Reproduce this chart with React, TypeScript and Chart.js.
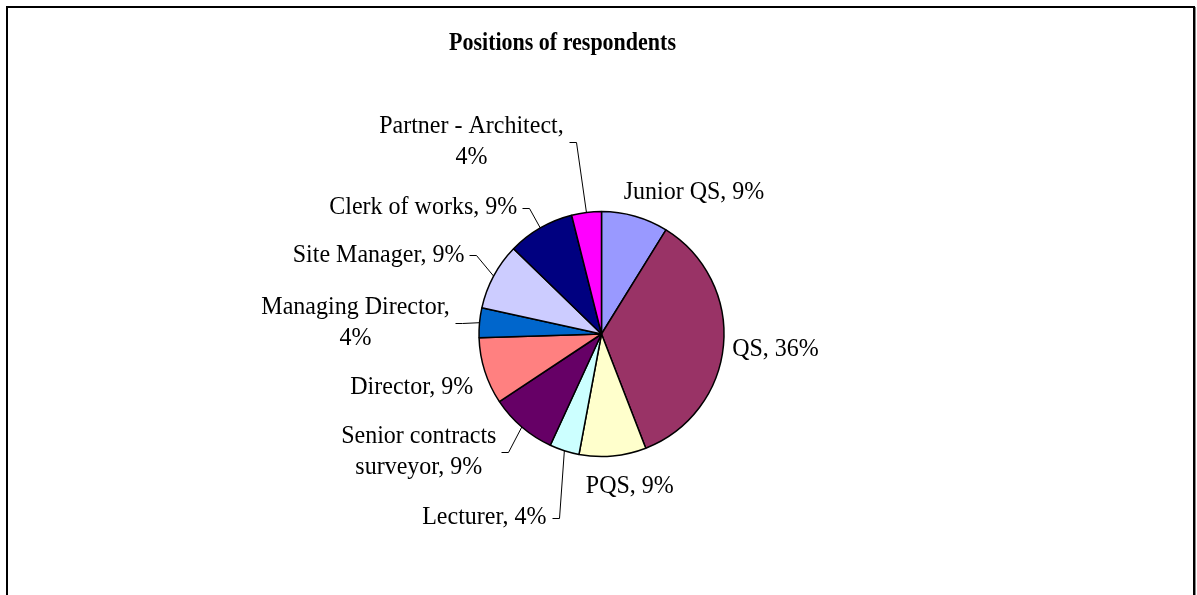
import React, { useEffect, useRef } from "react";
import { Chart, PieController, ArcElement } from "chart.js";

Chart.register(PieController, ArcElement);

// Survey data: job positions of the respondents (share of total, %)
const categories = [
  "Junior QS",
  "QS",
  "PQS",
  "Lecturer",
  "Senior contracts surveyor",
  "Director",
  "Managing Director",
  "Site Manager",
  "Clerk of works",
  "Partner - Architect",
];
const shares = [9, 36, 9, 4, 9, 9, 4, 9, 9, 4];
const sliceColors = [
  "#9999FF",
  "#993366",
  "#FFFFCC",
  "#CCFFFF",
  "#660066",
  "#FF8080",
  "#0066CC",
  "#CCCCFF",
  "#000080",
  "#FF00FF",
];
const chartTitle = "Positions of respondents";

// Label placement: offset of each label's centre from the outer midpoint of its slice
const labelOffsets: [number, number][] = [
  [59, -24],
  [52, 4],
  [17, 30],
  [-80, 67],
  [-103, 25],
  [-73, 16],
  [-124, 0],
  [-115, -21],
  [-117, -20],
  [-115, -70],
];
// Whether a leader line joins the label to its slice
const hasLeader = [false, false, false, true, true, false, true, true, true, true];

const LABEL_FONT = '25px "Liberation Serif", "Times New Roman", serif';
const LABEL_SCALE_X = 0.96;
const TITLE_FONT = 'bold 25px "Liberation Serif", "Times New Roman", serif';
const TITLE_SCALE_X = 0.88;
const WRAP_WIDTH = 210;
const LINE_HEIGHT = 31;

function textWidth(ctx: CanvasRenderingContext2D, s: string, sx: number) {
  return ctx.measureText(s).width * sx;
}

// Draws text with a slight horizontal squeeze, the way the serif face is set here
function drawText(ctx: CanvasRenderingContext2D, s: string, x: number, y: number, sx: number) {
  ctx.save();
  ctx.translate(x, y);
  ctx.scale(sx, 1);
  ctx.fillText(s, 0, 0);
  ctx.restore();
}

function wrapText(ctx: CanvasRenderingContext2D, text: string, maxWidth: number, sx: number): string[] {
  const words = text.split(" ");
  const lines: string[] = [];
  let current = "";
  for (const w of words) {
    const trial = current ? current + " " + w : w;
    if (current && textWidth(ctx, trial, sx) > maxWidth) {
      lines.push(current);
      current = w;
    } else {
      current = trial;
    }
  }
  if (current) lines.push(current);
  return lines;
}

const sliceLabels = {
  id: "sliceLabels",
  afterDatasetsDraw(chart: any) {
    const ctx: CanvasRenderingContext2D = chart.ctx;
    const meta = chart.getDatasetMeta(0);
    ctx.save();
    ctx.font = LABEL_FONT;
    ctx.fillStyle = "#000";
    ctx.strokeStyle = "#000";
    ctx.lineWidth = 1;
    ctx.textAlign = "center";
    ctx.textBaseline = "middle";
    meta.data.forEach((arc: any, i: number) => {
      const { x, y, startAngle, endAngle, outerRadius } = arc.getProps(
        ["x", "y", "startAngle", "endAngle", "outerRadius"],
        true
      );
      const mid = (startAngle + endAngle) / 2;
      const ex = x + Math.cos(mid) * outerRadius;
      const ey = y + Math.sin(mid) * outerRadius;
      const cx = ex + labelOffsets[i][0];
      const cy = ey + labelOffsets[i][1];
      const lines = wrapText(ctx, `${categories[i]}, ${shares[i]}%`, WRAP_WIDTH, LABEL_SCALE_X);
      const top = cy - ((lines.length - 1) * LINE_HEIGHT) / 2;
      lines.forEach((ln, k) => drawText(ctx, ln, cx, top + k * LINE_HEIGHT, LABEL_SCALE_X));
      if (hasLeader[i]) {
        const w = Math.max(...lines.map((l) => textWidth(ctx, l, LABEL_SCALE_X)));
        const lx = Math.round(cx + w / 2 + 5) + 0.5;
        const ly = Math.round(cy) + 0.5;
        ctx.beginPath();
        ctx.moveTo(lx, ly);
        ctx.lineTo(lx + 7, ly);
        ctx.lineTo(ex, ey);
        ctx.stroke();
      }
    });
    ctx.font = TITLE_FONT;
    ctx.textBaseline = "alphabetic";
    drawText(ctx, chartTitle, 562.5, 50, TITLE_SCALE_X);
    ctx.restore();
  },
};

export default function App() {
  const canvasRef = useRef<HTMLCanvasElement | null>(null);

  useEffect(() => {
    const canvas = canvasRef.current;
    if (!canvas) return;
    const chart = new Chart(canvas, {
      type: "pie",
      data: {
        labels: categories,
        datasets: [
          {
            data: shares,
            backgroundColor: sliceColors,
            borderColor: "#000",
            borderWidth: 1.5,
            radius: 122.5,
          } as any,
        ],
      },
      options: {
        responsive: false,
        animation: false,
        events: [],
        layout: { padding: { left: 400, right: 394, top: 200, bottom: 127 } },
        plugins: {
          legend: { display: false },
          tooltip: { enabled: false },
          title: { display: false },
        },
      } as any,
      plugins: [sliceLabels],
    });
    return () => chart.destroy();
  }, []);

  return (
    <div
      style={{
        position: "fixed",
        left: 0,
        top: 0,
        width: 1197,
        height: 595,
        background: "#fff",
        overflow: "hidden",
      }}
    >
      <canvas ref={canvasRef} width={1197} height={595} style={{ display: "block" }} />
      <div
        style={{
          position: "absolute",
          left: 6,
          top: 6,
          width: 1189,
          height: 620,
          border: "2px solid #000",
          boxSizing: "border-box",
          boxShadow: "1px 1px 0 #888",
          pointerEvents: "none",
        }}
      />
    </div>
  );
}
